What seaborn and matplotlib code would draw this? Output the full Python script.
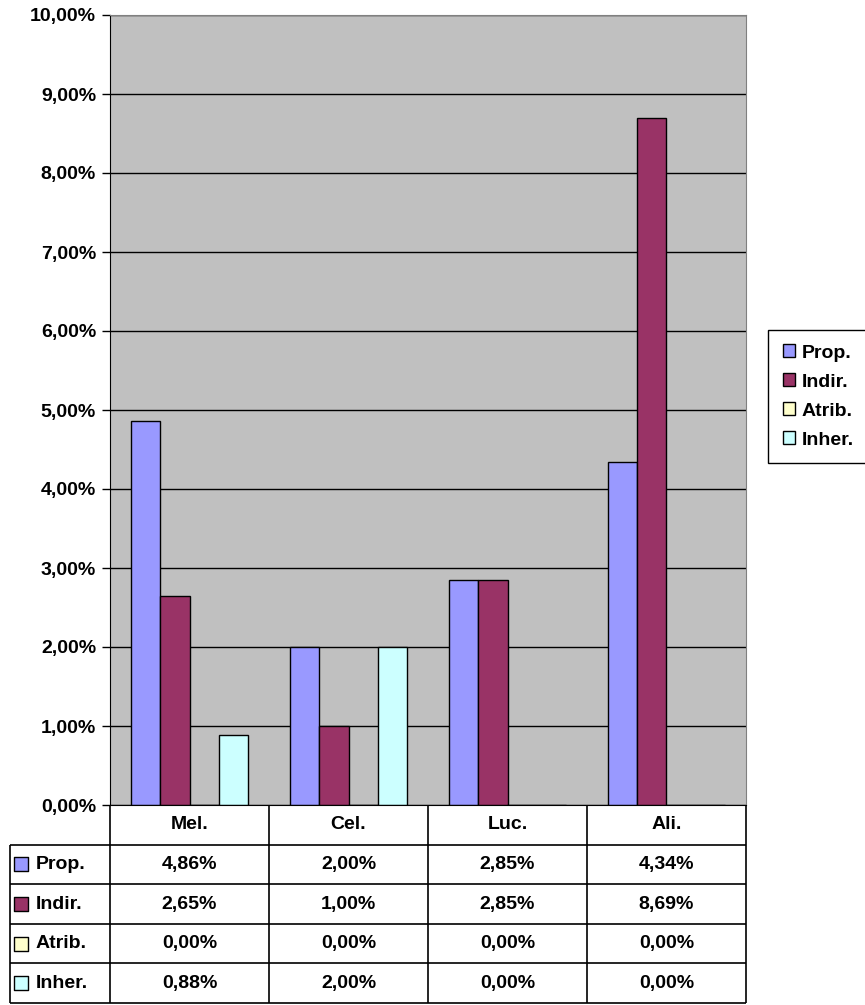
import pandas as pd
import seaborn as sns
import matplotlib.pyplot as plt
from matplotlib.ticker import FuncFormatter, MultipleLocator

# chart data
categories = ["Mel.", "Cel.", "Luc.", "Ali."]
series = ["Prop.", "Indir.", "Atrib.", "Inher."]
prop = [4.86, 2.00, 2.85, 4.34]
indir = [2.65, 1.00, 2.85, 8.69]
atrib = [0.00, 0.00, 0.00, 0.00]
inher = [0.88, 2.00, 0.00, 0.00]
colors = ["#9999FF", "#993366", "#FFFFCC", "#CCFFFF"]

values = {"Prop.": prop, "Indir.": indir, "Atrib.": atrib, "Inher.": inher}
rows = []
for s in series:
    for c, v in zip(categories, values[s]):
        rows.append({"cat": c, "serie": s, "val": v})
df = pd.DataFrame(rows)

plt.rcParams['font.family'] = ['Liberation Sans', 'DejaVu Sans']
plt.rcParams['font.weight'] = 'bold'
FS = 14

W, H = 865, 1005
fig = plt.figure(figsize=(W / 100, H / 100), dpi=100)
ax = fig.add_axes([110 / W, 200 / H, 636 / W, 790 / H])

sns.barplot(data=df, x="cat", y="val", hue="serie", order=categories,
            hue_order=series, palette=colors, saturation=1, width=0.73,
            edgecolor="black", linewidth=1, ax=ax)

ax.set_facecolor("#C0C0C0")
ax.set_ylim(0, 10)
ax.set_xlim(-0.5, 3.5)
ax.yaxis.set_major_locator(MultipleLocator(1))
ax.yaxis.set_major_formatter(FuncFormatter(lambda v, p: f"{v:.2f}%".replace(".", ",")))
ax.yaxis.grid(True, color="black", linewidth=1)
ax.set_axisbelow(True)
ax.set_xlabel("")
ax.set_ylabel("")
ax.set_xticks([])
ax.tick_params(axis="y", length=6, width=1, labelsize=FS, pad=4)
for lbl in ax.get_yticklabels():
    lbl.set_fontweight("bold")
ax.spines["left"].set_color("black")
ax.spines["bottom"].set_color("black")
ax.spines["top"].set_color("#808080")
ax.spines["right"].set_color("#808080")

handles, labels = ax.get_legend_handles_labels()
ax.legend(handles, labels, loc="center left", bbox_to_anchor=(1.035, 0.517),
          frameon=True, fancybox=False, edgecolor="black", framealpha=1,
          handlelength=0.65, handleheight=0.65, handletextpad=0.3,
          labelspacing=0.6, borderpad=0.75, borderaxespad=0,
          prop={"weight": "bold", "size": FS})

# data table under the chart
ta = fig.add_axes([10 / W, 2 / H, 736 / W, 198 / H])
left = -0.5 - 100 / 159
ta.set_xlim(left, 3.5)
ta.set_ylim(0, 5)
ta.axis("off")
kw = dict(color="black", linewidth=1.2, clip_on=False)
for y in [0, 1, 2, 3, 4]:
    ta.hlines(y, left, 3.5, **kw)
ta.vlines(left, 0, 4, **kw)
for x in [-0.5, 0.5, 1.5, 2.5, 3.5]:
    ta.vlines(x, 0, 5, **kw)

for i, c in enumerate(categories):
    ta.text(i, 4.5, c, ha="center", va="center", fontsize=FS, fontweight="bold")
for j, s in enumerate(series):
    yc = 3.5 - j
    ta.scatter([left + 11 / 159], [yc], marker="s", s=95, color=colors[j],
               edgecolor="black", linewidth=1, clip_on=False)
    ta.text(left + 26 / 159, yc, s, ha="left", va="center", fontsize=FS, fontweight="bold")
    for i, v in enumerate(values[s]):
        ta.text(i, yc, f"{v:.2f}%".replace(".", ","), ha="center", va="center",
                fontsize=FS, fontweight="bold")

fig.savefig("out.png", dpi=100)
